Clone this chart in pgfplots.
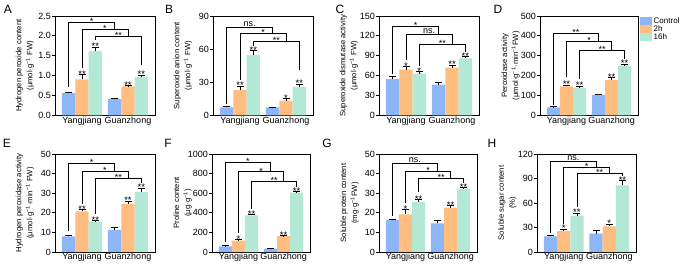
\documentclass[border=0pt]{standalone}
\usepackage{fontspec}
\setmainfont{Liberation Sans}
\usepackage{pgfplots}
\pgfplotsset{compat=1.18}
\definecolor{cb}{RGB}{140,182,245}
\definecolor{co}{RGB}{255,190,128}
\definecolor{cg}{RGB}{178,232,212}
\newcommand{\fs}[1]{\fontsize{#1}{#1}\selectfont}
\tikzset{brk/.style={black,line width=0.7pt},
  brkl/.style={font=\fs{9},anchor=base,inner sep=0pt},
  sigl/.style={font=\fs{9.5},anchor=base,inner sep=0pt,yshift=-2.7pt}}
\newcommand{\sig}[3]{\node[sigl] at (axis cs:#1,#2) {#3};}
\newcommand{\brkA}[5]{\draw[brk] (axis cs:0.71,#2) -- (axis cs:0.71,#1) -- (axis cs:1.71,#1) -- (axis cs:1.71,#3); \node[brkl,yshift=#5] at (axis cs:1.21,#1) {#4};}
\newcommand{\brkB}[5]{\draw[brk] (axis cs:1,#2) -- (axis cs:1,#1) -- (axis cs:2,#1) -- (axis cs:2,#3); \node[brkl,yshift=#5] at (axis cs:1.5,#1) {#4};}
\newcommand{\brkC}[5]{\draw[brk] (axis cs:1.29,#2) -- (axis cs:1.29,#1) -- (axis cs:2.29,#1) -- (axis cs:2.29,#3); \node[brkl,yshift=#5] at (axis cs:1.79,#1) {#4};}
\pgfplotsset{
 panel/.style={
  scale only axis, anchor=south west, clip=false,
  xmin=0.413, xmax=2.587, xtick={1,2}, xticklabels={Yangjiang,Guanzhong},
  ymin=0,
  axis line style={line width=0.8pt},
  tick align=outside, major tick length=3pt,
  x tick style={draw=none}, y tick style={line width=0.8pt, black},
  ytick pos=left,
  tick label style={font=\fs{9}},
  xticklabel style={inner sep=0pt, yshift=2pt},
  yticklabel style={inner sep=1pt},
  /pgf/number format/assume math mode=true,
  /pgf/number format/1000 sep={},
  ylabel style={font=\fontsize{7.7}{11}\selectfont, align=center, at={(axis description cs:-0.30,0.5)}, anchor=center},
  ybar, bar width=0.29, bar shift=0pt,
 },
 eb/.style={error bars/.cd, y dir=plus, y explicit,
   error bar style={draw=black, line width=0.7pt},
   error mark options={rotate=90, draw=black, mark size=3.5pt, line width=0.7pt}},
 ctl/.style={fill=cb, draw=none, eb},
 two/.style={fill=co, draw=none, eb},
 six/.style={fill=cg, draw=none, eb},
}
\begin{document}
\begin{tikzpicture}
% ---------- A ----------
\begin{axis}[panel, at={(55pt,149.5pt)}, width=100pt, height=99.5pt, ymax=2.5,
  ytick={0,0.5,1,1.5,2,2.5},
  yticklabel style={/pgf/number format/.cd,fixed,fixed zerofill,precision=1,/tikz/.cd},
  ylabel={Hydrogen peroxide content\\(μmol·g\textsuperscript{−1} FW)}]
\addplot[ctl] coordinates {(0.71,0.56) +- (0,0.02) (1.71,0.41) +- (0,0.03)};
\addplot[two] coordinates {(1,0.91) +- (0,0.12) (2,0.73) +- (0,0.02)};
\addplot[six] coordinates {(1.29,1.62) +- (0,0.10) (2.29,0.97) +- (0,0.05)};
\sig{1}{1.03}{**}\sig{1.29}{1.72}{**}\sig{2}{0.75}{**}\sig{2.29}{1.02}{**}
\brkA{2.35}{0.72}{2.16}{*}{-2.3pt}
\brkB{2.16}{1.2}{1.99}{*}{-2.3pt}
\brkC{1.99}{1.89}{1.28}{**}{-2.3pt}
\end{axis}
% ---------- B ----------
\begin{axis}[panel, at={(213pt,149.5pt)}, width=100pt, height=99.5pt, ymax=90,
  ytick={0,30,60,90},
  ylabel={Superoxide anion content\\(μmol·g\textsuperscript{−1} FW)}]
\addplot[ctl] coordinates {(0.71,7.4) +- (0,1.0) (1.71,7.3) +- (0,0.5)};
\addplot[two] coordinates {(1,23) +- (0,3.5) (2,13.5) +- (0,2)};
\addplot[six] coordinates {(1.29,54.5) +- (0,4) (2.29,26) +- (0,2.5)};
\sig{1}{26.5}{**}\sig{1.29}{58.5}{**}\sig{2}{15.5}{*}\sig{2.29}{28.5}{**}
\brkA{80}{10.5}{74}{ns.}{1pt}
\brkB{74}{32}{67}{*}{-2.3pt}
\brkC{67}{62.5}{41.5}{**}{-2.3pt}
\end{axis}
% ---------- C ----------
\begin{axis}[panel, at={(379pt,149.5pt)}, width=100pt, height=99.5pt, ymax=150,
  ytick={0,30,60,90,120,150},
  ylabel={Superoxide dismutase activity\\(μmol·g\textsuperscript{−1} FW)}]
\addplot[ctl] coordinates {(0.71,55) +- (0,3.5) (1.71,46.5) +- (0,4)};
\addplot[two] coordinates {(1,69) +- (0,5) (2,72) +- (0,4)};
\addplot[six] coordinates {(1.29,63) +- (0,3) (2.29,86) +- (0,3)};
\sig{1}{74}{*}\sig{1.29}{66}{*}\sig{2}{76}{**}\sig{2.29}{89}{**}
\brkA{135}{62}{122}{*}{-2.3pt}
\brkB{122}{83}{108}{ns.}{1pt}
\brkC{108}{74}{96}{**}{-2.3pt}
\end{axis}
% ---------- D ----------
\begin{axis}[panel, at={(540pt,149.5pt)}, width=98pt, height=99.5pt, ymax=500,
  ytick={0,100,200,300,400,500},
  ylabel={Peroxidase activity\\(μmol·g\textsuperscript{−1}·min\textsuperscript{−1}FW)},
  legend style={at={(axis description cs:1,1)}, anchor=north west, xshift=2pt, yshift=-1pt,
    draw=none, fill=none, inner sep=0pt, row sep=0pt, column sep=2pt,
    nodes={font=\fs{8}, inner sep=0pt, text height=6.2pt, text depth=1.8pt}},
  legend cell align=left,
  legend image code/.code={\fill[#1] (0pt,-4pt) rectangle (11.5pt,4pt);}]
\addplot[ctl] coordinates {(0.71,41) +- (0,3) (1.71,103) +- (0,4)};
\addplot[two] coordinates {(1,146) +- (0,8) (2,178) +- (0,12)};
\addplot[six] coordinates {(1.29,140) +- (0,8) (2.29,250) +- (0,8)};
\legend{Control,2h,16h}
\sig{1}{154}{**}\sig{1.29}{148}{**}\sig{2}{190}{**}\sig{2.29}{258}{**}
\brkA{414}{55}{375}{**}{-2.3pt}
\brkB{375}{192}{329}{*}{-2.3pt}
\brkC{329}{183}{286}{**}{-2.3pt}
\end{axis}
% ---------- E ----------
\begin{axis}[panel, at={(55pt,13pt)}, width=100pt, height=98pt, ymax=50,
  ytick={0,10,20,30,40,50},
  ylabel={Hydrogen peroxidase activity\\(μmol·g\textsuperscript{−1}·min\textsuperscript{−1} FW)}]
\addplot[ctl] coordinates {(0.71,8.0) +- (0,0.5) (1.71,11.3) +- (0,1.2)};
\addplot[two] coordinates {(1,20.7) +- (0,1) (2,24.5) +- (0,1.5)};
\addplot[six] coordinates {(1.29,15.5) +- (0,0.6) (2.29,30.5) +- (0,2)};
\sig{1}{21.7}{**}\sig{1.29}{16.1}{**}\sig{2}{26}{**}\sig{2.29}{32.5}{**}
\brkA{45.3}{10.5}{41}{*}{-2.3pt}
\brkB{41}{24.5}{37.6}{*}{-2.3pt}
\brkC{37.6}{19.5}{35}{**}{-2.3pt}
\end{axis}
% ---------- F ----------
\begin{axis}[panel, at={(212pt,13pt)}, width=98pt, height=98pt, ymax=1000,
  ytick={0,200,400,600,800,1000},
  ylabel={Proline content\\(μg·g\textsuperscript{−1})}]
\addplot[ctl] coordinates {(0.71,58) +- (0,8) (1.71,34) +- (0,5)};
\addplot[two] coordinates {(1,116) +- (0,12) (2,161) +- (0,7)};
\addplot[six] coordinates {(1.29,373) +- (0,10) (2.29,606) +- (0,10)};
\sig{1}{128}{*}\sig{1.29}{383}{**}\sig{2}{168}{**}\sig{2.29}{616}{**}
\brkA{914}{100}{818}{*}{-2.3pt}
\brkB{818}{195}{726}{*}{-2.3pt}
\brkC{726}{435}{660}{**}{-2.3pt}
\end{axis}
% ---------- G ----------
\begin{axis}[panel, at={(379pt,13pt)}, width=98pt, height=98pt, ymax=50,
  ytick={0,10,20,30,40,50},
  ylabel={Soluble protein content\\(mg·g\textsuperscript{−1}FW)}]
\addplot[ctl] coordinates {(0.71,16.3) +- (0,0.4) (1.71,14.6) +- (0,1.5)};
\addplot[two] coordinates {(1,19.2) +- (0,2.5) (2,22.6) +- (0,1)};
\addplot[six] coordinates {(1.29,25.5) +- (0,1.3) (2.29,32.3) +- (0,0.5)};
\sig{1}{21.7}{*}\sig{1.29}{26.8}{**}\sig{2}{23.6}{**}\sig{2.29}{32.8}{**}
\brkA{45.2}{18.5}{41.4}{ns.}{1pt}
\brkB{41.4}{25}{37.5}{*}{-2.3pt}
\brkC{37.5}{30.5}{35}{**}{-2.3pt}
\end{axis}
% ---------- H ----------
\begin{axis}[panel, at={(537pt,13pt)}, width=99pt, height=98pt, ymax=120,
  ytick={0,30,60,90,120},
  ylabel={Soluble sugar content\\(\%)}]
\addplot[ctl] coordinates {(0.71,19.2) +- (0,1.5) (1.71,22.5) +- (0,3.5)};
\addplot[two] coordinates {(1,25.7) +- (0,2.5) (2,31.5) +- (0,2.5)};
\addplot[six] coordinates {(1.29,44.5) +- (0,3) (2.29,81.5) +- (0,6)};
\sig{1}{28.2}{*}\sig{1.29}{47.5}{**}\sig{2}{34}{*}\sig{2.29}{87.5}{**}
\brkA{111}{23.5}{103.7}{ns.}{1pt}
\brkB{103.7}{34}{96.7}{*}{-2.3pt}
\brkC{96.7}{55}{93.5}{**}{-2.3pt}
\end{axis}
% panel letters
\node[font=\fs{12}] at (8pt,256pt) {A};
\node[font=\fs{12}] at (169pt,256pt) {B};
\node[font=\fs{12}] at (340pt,256pt) {C};
\node[font=\fs{12}] at (498pt,256pt) {D};
\node[font=\fs{12}] at (7pt,122pt) {E};
\node[font=\fs{12}] at (168pt,122pt) {F};
\node[font=\fs{12}] at (327pt,122pt) {G};
\node[font=\fs{12}] at (492pt,122pt) {H};
\pgfresetboundingbox
\path[use as bounding box] (0pt,0pt) rectangle (685pt,265pt);
\end{tikzpicture}
\end{document}
